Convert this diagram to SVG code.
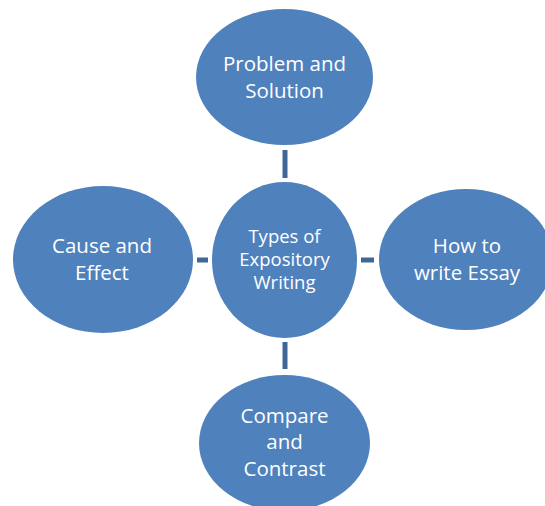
<svg xmlns="http://www.w3.org/2000/svg" width="545" height="506" viewBox="0 0 545 506">
<style>
.node{fill:#4F81BD;}
.lbl{font-family:"Open Sans","Noto Sans","Liberation Sans",sans-serif;font-size:20.5px;fill:#FFFFFF;text-anchor:middle;}
.small{font-size:18.5px;}
.conn{stroke:#3F6797;stroke-width:5;fill:none;}
</style>
<rect width="545" height="506" fill="#FFFFFF"/>
<g id="connectors">
<line class="conn" x1="285" y1="150" x2="285" y2="178"/>
<line class="conn" x1="197" y1="260" x2="208" y2="260"/>
<line class="conn" x1="361" y1="260" x2="374" y2="260"/>
<line class="conn" x1="285" y1="342" x2="285" y2="369"/>
</g>
<g id="problem">
<ellipse class="node" cx="284.5" cy="77" rx="88.5" ry="68"/>
<text class="lbl" x="284.5" y="71">Problem and</text>
<text class="lbl" x="284.5" y="98">Solution</text>
</g>
<g id="cause">
<ellipse class="node" cx="103" cy="259.5" rx="90" ry="73.5"/>
<text class="lbl" x="102" y="253">Cause and</text>
<text class="lbl" x="102" y="280">Effect</text>
</g>
<g id="center">
<ellipse class="node" cx="284.5" cy="260" rx="72.5" ry="78"/>
<text class="lbl small" x="284.5" y="243">Types of</text>
<text class="lbl small" x="284.5" y="266">Expository</text>
<text class="lbl small" x="284.5" y="289">Writing</text>
</g>
<g id="howto">
<ellipse class="node" cx="466" cy="259.5" rx="87" ry="70.5"/>
<text class="lbl" x="467" y="253">How to</text>
<text class="lbl" x="467" y="280">write Essay</text>
</g>
<g id="compare">
<ellipse class="node" cx="284.5" cy="443" rx="85.5" ry="68"/>
<text class="lbl" x="284.5" y="423">Compare</text>
<text class="lbl" x="284.5" y="449">and</text>
<text class="lbl" x="284.5" y="476">Contrast</text>
</g>
</svg>
